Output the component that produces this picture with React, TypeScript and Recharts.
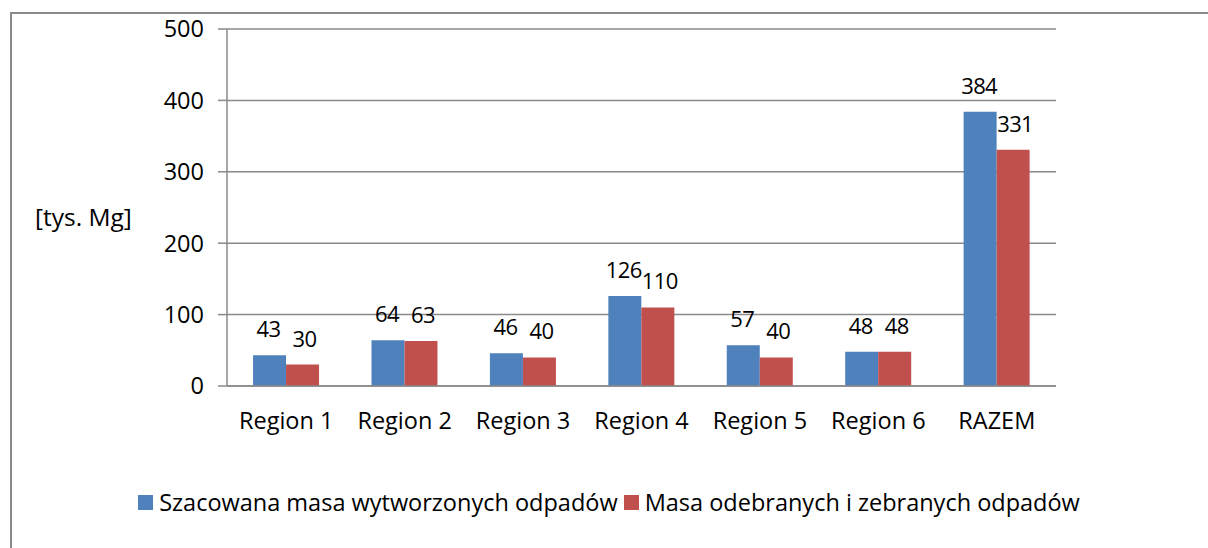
import { BarChart, Bar, XAxis, YAxis, CartesianGrid, LabelList } from 'recharts';

const categories = ['Region 1', 'Region 2', 'Region 3', 'Region 4', 'Region 5', 'Region 6', 'RAZEM'];
const szacowana = [43, 64, 46, 126, 57, 48, 384];
const odebrana = [30, 63, 40, 110, 40, 48, 331];
const yTicks = [0, 100, 200, 300, 400, 500];
const seriesNames = ['Szacowana masa wytworzonych odpadów', 'Masa odebranych i zebranych odpadów'];

const BLUE = '#4F81BD';
const RED = '#C0504D';
const GRAY = '#8a8a8a';
const FONT = '"Open Sans", sans-serif';
const FS = 23.5;

const data = categories.map((name, i) => ({ name, a: szacowana[i], b: odebrana[i] }));
const edgeTicks = categories.map((_, i) => i).concat(categories.length);

export default function App() {
  return (
    <div style={{ position: 'absolute', left: 0, top: 0, width: 1208, height: 548, background: '#fff', fontFamily: FONT, overflow: 'hidden' }}>
      <div style={{ position: 'absolute', left: 10, top: 12, width: 1210, height: 550, border: `2px solid ${GRAY}`, boxSizing: 'border-box' }} />
      <BarChart
        width={1208}
        height={548}
        data={data}
        margin={{ top: 29, right: 152, left: 0, bottom: 102 }}
        barCategoryGap="22%"
        barGap={0}
        style={{ position: 'absolute', left: 0, top: 0 }}
      >
        <CartesianGrid vertical={false} stroke={GRAY} strokeWidth={1.5} />
        <XAxis
          dataKey="name"
          height={60}
          tickLine={false}
          axisLine={{ stroke: GRAY, strokeWidth: 1.5 }}
          tickMargin={20}
          tick={{ fill: '#000', fontSize: FS, fontFamily: FONT }}
        />
        <XAxis
          xAxisId="edges"
          type="number"
          domain={[0, categories.length]}
          ticks={edgeTicks}
          allowDataOverflow
          height={0}
          axisLine={false}
          tick={false}
          tickSize={8}
          tickLine={{ stroke: GRAY, strokeWidth: 1.5 }}
        />
        <YAxis
          width={227}
          domain={[0, 500]}
          ticks={yTicks}
          tickSize={9}
          tickMargin={14}
          axisLine={{ stroke: GRAY, strokeWidth: 1.5 }}
          tickLine={{ stroke: GRAY, strokeWidth: 1.5 }}
          tick={{ fill: '#000', fontSize: FS, fontFamily: FONT }}
          label={{ value: '[tys. Mg]', position: 'insideLeft', offset: 35, dy: 10, fill: '#000', fontSize: FS + 1, fontFamily: FONT }}
        />
        <Bar dataKey="a" fill={BLUE} isAnimationActive={false}>
          <LabelList dataKey="a" position="top" offset={18} dx={-1} fill="#000" fontSize={22} letterSpacing={-0.6} fontFamily={FONT} />
        </Bar>
        <Bar dataKey="b" fill={RED} isAnimationActive={false}>
          <LabelList dataKey="b" position="top" offset={18} dx={2} fill="#000" fontSize={22} letterSpacing={-0.6} fontFamily={FONT} />
        </Bar>
      </BarChart>
      <div style={{ position: 'absolute', top: 486, left: 0, width: 1208, display: 'flex', justifyContent: 'center', alignItems: 'center', fontSize: FS, color: '#000', transform: 'translateX(5px)' }}>
        {seriesNames.map((n, i) => (
          <span key={n} style={{ display: 'flex', alignItems: 'center', marginRight: i === 0 ? 6 : 0 }}>
            <span style={{ width: 15, height: 15, background: i === 0 ? BLUE : RED, marginRight: 6, display: 'inline-block' }} />
            {n}
          </span>
        ))}
      </div>
    </div>
  );
}
